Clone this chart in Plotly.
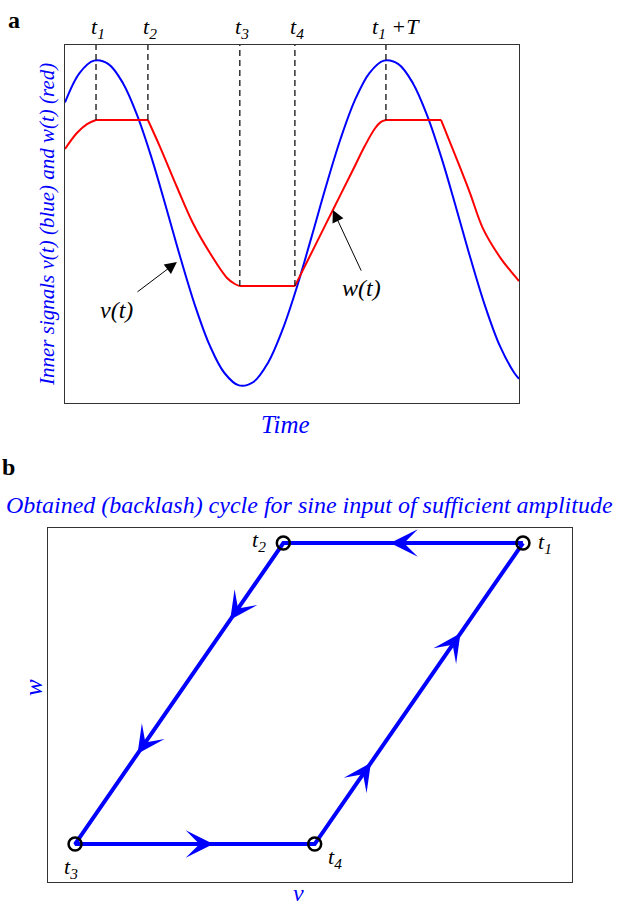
import plotly.graph_objects as go
import numpy as np

# ---------------- data: panel a ----------------
time_v = [0.00, 0.05, 0.10, 0.15, 0.20, 0.25, 0.30, 0.35, 0.40, 0.45, 0.50, 0.55, 0.60,
          0.65, 0.70, 0.75, 0.80, 0.85, 0.90, 0.95, 1.00, 1.05, 1.10, 1.15, 1.20, 1.25,
          1.30, 1.35, 1.40, 1.45, 1.50, 1.55, 1.566]
v_vals = [0.74, 0.92, 0.996, 0.975, 0.858, 0.656, 0.392, 0.088, -0.224, -0.514, -0.754,
          -0.92, -0.996, -0.975, -0.858, -0.656, -0.392, -0.088, 0.224, 0.514, 0.754,
          0.92, 0.996, 0.975, 0.858, 0.656, 0.392, 0.088, -0.224, -0.514, -0.754, -0.92, -0.955]

time_w = [0.0, 0.041, 0.076, 0.107, 0.286, 0.328, 0.386, 0.441, 0.5, 0.559, 0.586, 0.603,
          0.793, 0.855, 0.924, 0.993, 1.034, 1.069, 1.09, 1.107, 1.297, 1.362, 1.397,
          1.441, 1.5, 1.534, 1.566]
w_vals = [0.454, 0.552, 0.607, 0.632, 0.632, 0.466, 0.221, 0.0, -0.184, -0.337, -0.374, -0.387,
          -0.387, -0.166, 0.080, 0.325, 0.472, 0.58, 0.62, 0.632, 0.632, 0.344, 0.184,
          -0.031, -0.209, -0.288, -0.356]
# indices in time_w where the red curve has a corner (segment breaks)
w_breaks = [0, 3, 4, 11, 12, 19, 20, 26]

mark_times = [0.107, 0.286, 0.603, 0.793, 1.107]
mark_labels = ["t<sub>1</sub>", "t<sub>2</sub>", "t<sub>3</sub>", "t<sub>4</sub>", "t<sub>1</sub> +T"]

# ---------------- data: panel b ----------------
cycle_v = [1.0, -0.07, -1.0, 0.07, 1.0]
cycle_w = [1.0, 1.0, -1.0, -1.0, 1.0]
corner_labels = ["t<sub>1</sub>", "t<sub>2</sub>", "t<sub>3</sub>", "t<sub>4</sub>"]
# arrow positions: (edge index, fraction along the edge)
arrow_edges = [0, 1, 1, 2, 3, 3]
arrow_fracs = [0.554, 0.255, 0.70, 0.577, 0.27, 0.70]

FONT = "Liberation Serif"
BLUE = "#0000ff"

ya_lo, ya_hi = -1.104, 1.092
xb_lo, xb_hi = -1.123, 1.219
yb_lo, yb_hi = -1.252, 1.100

fig = go.Figure()

# panel a curves
fig.add_trace(go.Scatter(x=time_v, y=v_vals, mode="lines", line=dict(color=BLUE, width=2, shape="spline"),
                         xaxis="x", yaxis="y", showlegend=False, hoverinfo="skip"))
for a, b in zip(w_breaks[:-1], w_breaks[1:]):
    fig.add_trace(go.Scatter(x=time_w[a:b + 1], y=w_vals[a:b + 1], mode="lines",
                             line=dict(color="#ff0000", width=2, shape="spline" if b - a > 1 else "linear"),
                             xaxis="x", yaxis="y", showlegend=False, hoverinfo="skip"))

# dashed markers
levels = np.interp(mark_times, time_w, w_vals)
for tm, lv in zip(mark_times, levels):
    fig.add_trace(go.Scatter(x=[tm, tm], y=[lv, ya_hi], mode="lines",
                             line=dict(color="#111111", width=1.3, dash="6px,4px"),
                             xaxis="x", yaxis="y", showlegend=False, hoverinfo="skip"))

annotations = []
for i, (tm, lab) in enumerate(zip(mark_times, mark_labels)):
    annotations.append(dict(x=tm, y=1.0, xref="x", yref="y domain", text="<i>" + lab + "</i>",
                            showarrow=False, yanchor="bottom", xanchor="center",
                            xshift=(10 if i == 4 else 2), yshift=1,
                            font=dict(family=FONT, size=22, color="black")))

# v(t) and w(t) labels with arrows
annotations.append(dict(x=0.386, y=-0.239, ax=0.245, ay=-0.429, xref="x", yref="y", axref="x", ayref="y",
                        text="", showarrow=True, arrowhead=2, arrowsize=2.4, arrowwidth=1, arrowcolor="black",
                        standoff=0))
annotations.append(dict(x=0.176, y=-0.534, xref="x", yref="y", text="<i>v(t)</i>", showarrow=False,
                        font=dict(family=FONT, size=24, color="black")))
annotations.append(dict(x=0.924, y=0.080, ax=1.024, ay=-0.301, xref="x", yref="y", axref="x", ayref="y",
                        text="", showarrow=True, arrowhead=2, arrowsize=2.4, arrowwidth=1, arrowcolor="black",
                        standoff=0))
annotations.append(dict(x=1.024, y=-0.399, xref="x", yref="y", text="<i>w(t)</i>", showarrow=False,
                        font=dict(family=FONT, size=24, color="black")))

# panel b
fig.add_trace(go.Scatter(x=cycle_v, y=cycle_w, mode="lines", line=dict(color=BLUE, width=4),
                         xaxis="x2", yaxis="y2", showlegend=False, hoverinfo="skip"))
fig.add_trace(go.Scatter(x=cycle_v[:4], y=cycle_w[:4], mode="markers",
                         marker=dict(symbol="circle-open", size=13, color="black", line=dict(width=2.5)),
                         xaxis="x2", yaxis="y2", showlegend=False, hoverinfo="skip"))

for e, f in zip(arrow_edges, arrow_fracs):
    x0, y0 = cycle_v[e], cycle_w[e]
    x1, y1 = cycle_v[e + 1], cycle_w[e + 1]
    tip = (x0 + f * (x1 - x0), y0 + f * (y1 - y0))
    tail = (x0 + (f - 0.05) * (x1 - x0), y0 + (f - 0.05) * (y1 - y0))
    annotations.append(dict(x=tip[0], y=tip[1], ax=tail[0], ay=tail[1], xref="x2", yref="y2",
                            axref="x2", ayref="y2", text="", showarrow=True, arrowhead=3,
                            arrowsize=2.3, arrowwidth=2, arrowcolor=BLUE, standoff=0))

corner_shift = [(22, 0), (-24, 2), (-4, -24), (20, -14)]
for (cx, cy), lab, (sx, sy) in zip(zip(cycle_v[:4], cycle_w[:4]), corner_labels, corner_shift):
    annotations.append(dict(x=cx, y=cy, xref="x2", yref="y2", text="<i>" + lab + "</i>", showarrow=False,
                            xshift=sx, yshift=sy, font=dict(family=FONT, size=22, color="black")))


def pa(x, y, text, size, color, angle=0):
    return dict(x=x / 619, y=1 - y / 908, xref="paper", yref="paper", text=text, textangle=angle,
                xanchor="center", yanchor="middle", showarrow=False,
                font=dict(family=FONT, size=size, color=color))


annotations += [
    pa(47, 225, "<i>Inner signals v(t) (blue) and w(t) (red)</i>", 21, BLUE, -90),
    pa(285, 424, "<i>Time</i>", 25, BLUE),
    pa(14, 20, "<b>a</b>", 24, "black"),
    pa(8, 467, "<b>b</b>", 24, "black"),
    pa(309, 505, "<i>Obtained (backlash) cycle for sine input of sufficient amplitude</i>", 24, BLUE),
    pa(298, 893, "<i>v</i>", 24, BLUE),
    pa(33, 688, "<i>w</i>", 25, BLUE, -90),
]

ax_common = dict(showticklabels=False, ticks="", showgrid=False, zeroline=False, showline=True,
                 mirror=True, linecolor="#333333", linewidth=1)

fig.update_layout(
    width=619, height=908, margin=dict(l=0, r=0, t=0, b=0),
    paper_bgcolor="white", plot_bgcolor="white",
    xaxis=dict(domain=[65 / 619, 519 / 619], range=[0, 1.566], anchor="y", **ax_common),
    yaxis=dict(domain=[1 - 403 / 908, 1 - 45 / 908], range=[ya_lo, ya_hi], anchor="x", **ax_common),
    xaxis2=dict(domain=[47.5 / 619, 572 / 619], range=[xb_lo, xb_hi], anchor="y2", **ax_common),
    yaxis2=dict(domain=[1 - 882 / 908, 1 - 528 / 908], range=[yb_lo, yb_hi], anchor="x2", **ax_common),
    annotations=annotations,
)

fig.write_html("out.html")
